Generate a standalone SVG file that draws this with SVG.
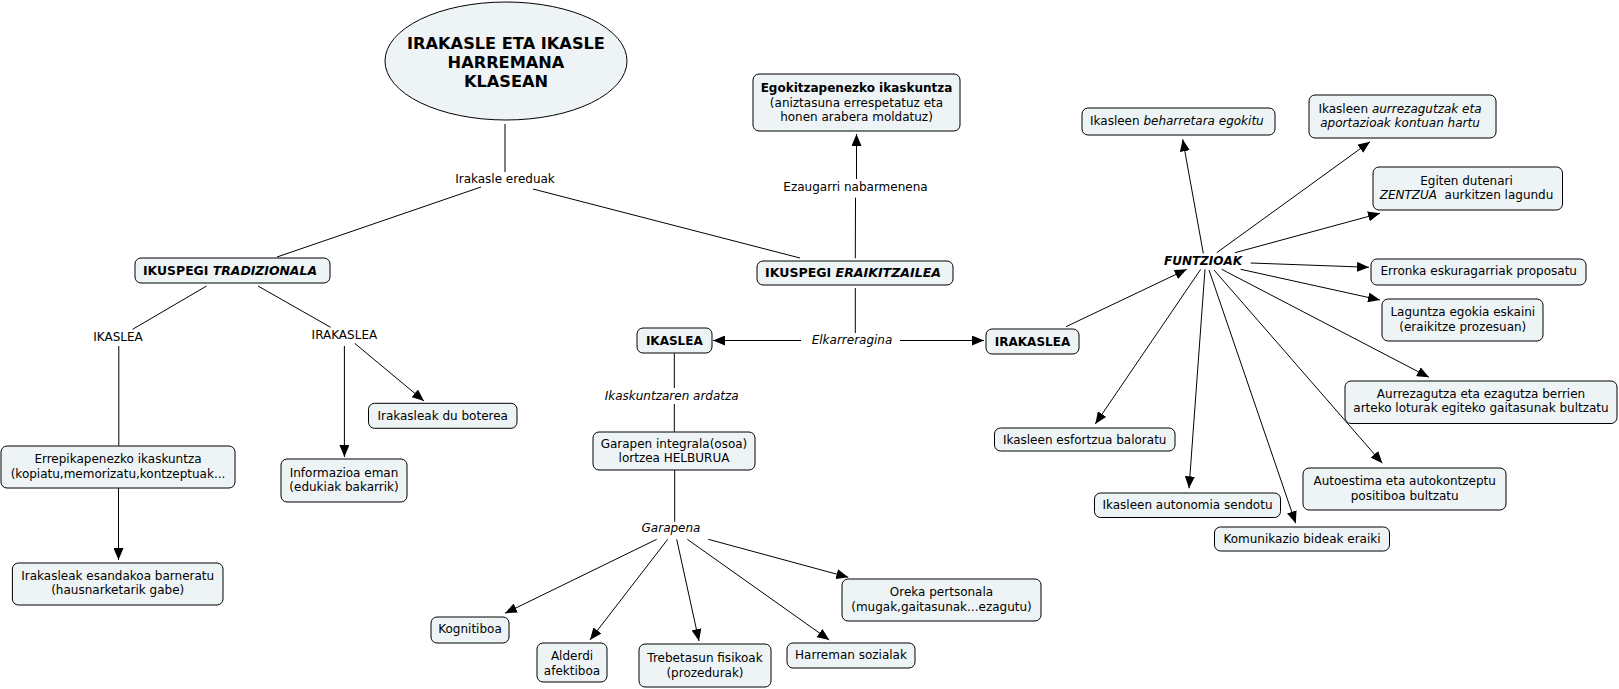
<svg xmlns="http://www.w3.org/2000/svg" width="1619" height="689" viewBox="0 0 1619 689">
<style>
.n{fill:#eef4f6;stroke:#000;stroke-width:1}
text{font-family:"DejaVu Sans",Verdana,sans-serif;font-size:12px;fill:#000}
.c{text-anchor:middle}
.b{font-weight:bold}
.i{font-style:italic}
.t{font-size:16.2px;font-weight:bold}
#connectors line{stroke:#000;stroke-width:1;fill:none}
#connectors line.a{marker-end:url(#ah)}
</style>
<defs>
<marker id="ah" markerUnits="userSpaceOnUse" markerWidth="12" markerHeight="10" refX="12" refY="5" orient="auto">
<path d="M0,0 L12,5 L0,10 z" fill="#000"/>
</marker>
</defs>
<rect width="1619" height="689" fill="#fff"/>
<g id="connectors">
<line x1="505" y1="124" x2="505" y2="172"/>
<line x1="481" y1="187" x2="277" y2="257"/>
<line x1="533" y1="189" x2="800" y2="258"/>
<line x1="206.6" y1="286" x2="132.6" y2="329.3"/>
<line x1="258" y1="286" x2="330.6" y2="327.3"/>
<line x1="118.8" y1="346" x2="118.8" y2="445.7"/>
<line class="a" x1="118.5" y1="488" x2="118.5" y2="560"/>
<line class="a" x1="344.4" y1="346" x2="344.4" y2="457"/>
<line class="a" x1="354.7" y1="343.3" x2="424" y2="401"/>
<line x1="855.3" y1="288" x2="855.3" y2="333"/>
<line class="a" x1="801" y1="340.5" x2="713" y2="340.5"/>
<line class="a" x1="900" y1="340.5" x2="984" y2="340.5"/>
<line x1="855.3" y1="258.3" x2="855.5" y2="197.7"/>
<line class="a" x1="856.5" y1="179" x2="856.5" y2="134"/>
<line x1="674.3" y1="353.3" x2="674.3" y2="388"/>
<line x1="674.3" y1="404" x2="674.3" y2="431.7"/>
<line x1="674.7" y1="470" x2="674.7" y2="521.7"/>
<line class="a" x1="656.7" y1="539.3" x2="505" y2="613.3"/>
<line class="a" x1="667.7" y1="539.3" x2="590" y2="640"/>
<line class="a" x1="676.7" y1="539.3" x2="699" y2="641"/>
<line class="a" x1="687.3" y1="539.3" x2="829.3" y2="640"/>
<line class="a" x1="708.3" y1="539.3" x2="848.3" y2="577.3"/>
<line class="a" x1="1066" y1="326.7" x2="1186.7" y2="269.3"/>
<line class="a" x1="1203.3" y1="253.3" x2="1182.7" y2="139.3"/>
<line class="a" x1="1216.7" y1="252.7" x2="1370" y2="141.7"/>
<line class="a" x1="1235" y1="252.7" x2="1380" y2="213.3"/>
<line class="a" x1="1250.7" y1="263" x2="1369" y2="267.3"/>
<line class="a" x1="1240.7" y1="269.3" x2="1380" y2="300"/>
<line class="a" x1="1221.7" y1="269.3" x2="1429" y2="377.3"/>
<line class="a" x1="1214" y1="270" x2="1382.3" y2="463.3"/>
<line class="a" x1="1209" y1="270" x2="1295.7" y2="523.3"/>
<line class="a" x1="1205" y1="269.3" x2="1189" y2="488.3"/>
<line class="a" x1="1200.7" y1="269.3" x2="1095.3" y2="424"/>
</g>
<g id="title">
<ellipse class="n" cx="506" cy="61" rx="121" ry="59"/>
<text class="c t" x="506" y="48.5">IRAKASLE ETA IKASLE</text>
<text class="c t" x="506" y="67.5">HARREMANA</text>
<text class="c t" x="506" y="86.8">KLASEAN</text>
</g>
<g id="lbl-ereduak"><text class="c" x="505" y="183">Irakasle ereduak</text></g>
<g id="tradizionala">
<rect class="n" x="135" y="258" width="195" height="25" rx="6"/>
<text class="b" x="143" y="275" textLength="174" lengthAdjust="spacingAndGlyphs">IKUSPEGI <tspan class="i">TRADIZIONALA</tspan></text>
</g>
<g id="eraikitzailea">
<rect class="n" x="757" y="261" width="196" height="24" rx="6"/>
<text class="b" x="765" y="277" textLength="176" lengthAdjust="spacingAndGlyphs">IKUSPEGI <tspan class="i">ERAIKITZAILEA</tspan></text>
</g>
<g id="egokitzapen">
<rect class="n" x="753" y="74" width="207" height="57" rx="6"/>
<text class="c b" x="856.5" y="91.7">Egokitzapenezko ikaskuntza</text>
<text class="c" x="856.5" y="106.7">(aniztasuna errespetatuz eta</text>
<text class="c" x="856.5" y="121.3">honen arabera moldatuz)</text>
</g>
<g id="lbl-ezaugarri"><text class="c" x="855.5" y="190.7">Ezaugarri nabarmenena</text></g>
<g id="lbl-elkarreragina"><text class="c i" x="852" y="344">Elkarreragina</text></g>
<g id="ikaslea-m">
<rect class="n" x="637" y="328" width="75" height="25" rx="6"/>
<text class="c b" x="674.3" y="345">IKASLEA</text>
</g>
<g id="irakaslea-r">
<rect class="n" x="986" y="329" width="93" height="25" rx="6"/>
<text class="c b" x="1032.5" y="345.7">IRAKASLEA</text>
</g>
<g id="lbl-ardatza"><text class="c i" x="671.7" y="399.7">Ikaskuntzaren ardatza</text></g>
<g id="garapen">
<rect class="n" x="593" y="432" width="162" height="38" rx="6"/>
<text class="c" x="674" y="448">Garapen integrala(osoa)</text>
<text class="c" x="674" y="462.3">lortzea HELBURUA</text>
</g>
<g id="lbl-garapena"><text class="c i" x="671" y="532.3">Garapena</text></g>
<g id="kognitiboa">
<rect class="n" x="431" y="617" width="78" height="26" rx="6"/>
<text class="c" x="470" y="632.7">Kognitiboa</text>
</g>
<g id="alderdi">
<rect class="n" x="537" y="643" width="70" height="39" rx="6"/>
<text class="c" x="572" y="659.7">Alderdi</text>
<text class="c" x="572" y="674.7">afektiboa</text>
</g>
<g id="trebetasun">
<rect class="n" x="639" y="644" width="132" height="43" rx="6"/>
<text class="c" x="705" y="661.7">Trebetasun fisikoak</text>
<text class="c" x="705" y="676.7">(prozedurak)</text>
</g>
<g id="harreman">
<rect class="n" x="787" y="643" width="128" height="25" rx="6"/>
<text class="c" x="851" y="659.3">Harreman sozialak</text>
</g>
<g id="oreka">
<rect class="n" x="842" y="579" width="199" height="42" rx="6"/>
<text class="c" x="941.5" y="595.7">Oreka pertsonala</text>
<text class="c" x="941.5" y="610.7">(mugak,gaitasunak...ezagutu)</text>
</g>
<g id="lbl-ikaslea"><text class="c" x="118" y="341">IKASLEA</text></g>
<g id="lbl-irakaslea"><text class="c" x="344.4" y="338.5">IRAKASLEA</text></g>
<g id="boterea">
<rect class="n" x="368.5" y="403.3" width="148.5" height="25" rx="6"/>
<text class="c" x="442.7" y="420">Irakasleak du boterea</text>
</g>
<g id="errepikapen">
<rect class="n" x="1" y="446" width="234" height="42" rx="6"/>
<text class="c" x="118" y="463">Errepikapenezko ikaskuntza</text>
<text class="c" x="118" y="478.3">(kopiatu,memorizatu,kontzeptuak...</text>
</g>
<g id="informazioa">
<rect class="n" x="281" y="459" width="126" height="43" rx="6"/>
<text class="c" x="344" y="476.7">Informazioa eman</text>
<text class="c" x="344" y="491.3">(edukiak bakarrik)</text>
</g>
<g id="esandakoa">
<rect class="n" x="12.4" y="563" width="210.6" height="42" rx="6"/>
<text class="c" x="117.7" y="579.7">Irakasleak esandakoa barneratu</text>
<text class="c" x="117.7" y="594">(hausnarketarik gabe)</text>
</g>
<g id="lbl-funtzioak"><text class="c b i" x="1203" y="265">FUNTZIOAK</text></g>
<g id="beharretara">
<rect class="n" x="1082" y="108" width="193" height="27" rx="6"/>
<text x="1090" y="125">Ikasleen <tspan class="i">beharretara egokitu</tspan></text>
</g>
<g id="aurrezagutzak">
<rect class="n" x="1309" y="95" width="187" height="43" rx="6"/>
<text class="c" x="1400" y="113">Ikasleen <tspan class="i">aurrezagutzak eta</tspan></text>
<text class="c i" x="1400" y="127.3">aportazioak kontuan hartu</text>
</g>
<g id="egiten">
<rect class="n" x="1373" y="167" width="189.5" height="43" rx="6"/>
<text class="c" x="1466.5" y="184.7">Egiten dutenari</text>
<text class="c" x="1466.5" y="199.3" xml:space="preserve"><tspan class="i">ZENTZUA</tspan>  aurkitzen lagundu</text>
</g>
<g id="erronka">
<rect class="n" x="1371" y="259" width="215" height="26" rx="6"/>
<text class="c" x="1478.7" y="275">Erronka eskuragarriak proposatu</text>
</g>
<g id="laguntza">
<rect class="n" x="1382" y="299" width="161" height="42" rx="6"/>
<text class="c" x="1462.8" y="315.7">Laguntza egokia eskaini</text>
<text class="c" x="1462.8" y="330.7">(eraikitze prozesuan)</text>
</g>
<g id="aurrezagutza">
<rect class="n" x="1345" y="381" width="272" height="42.5" rx="6"/>
<text class="c" x="1481" y="398">Aurrezagutza eta ezagutza berrien</text>
<text class="c" x="1481" y="412.3">arteko loturak egiteko gaitasunak bultzatu</text>
</g>
<g id="autoestima">
<rect class="n" x="1303" y="468" width="203" height="42" rx="6"/>
<text class="c" x="1404.7" y="484.7">Autoestima eta autokontzeptu</text>
<text class="c" x="1404.7" y="499.7">positiboa bultzatu</text>
</g>
<g id="autonomia">
<rect class="n" x="1094.5" y="493" width="186" height="24.5" rx="6"/>
<text class="c" x="1187.5" y="509">Ikasleen autonomia sendotu</text>
</g>
<g id="komunikazio">
<rect class="n" x="1214.5" y="527" width="175" height="24" rx="6"/>
<text class="c" x="1302" y="543">Komunikazio bideak eraiki</text>
</g>
<g id="esfortzua">
<rect class="n" x="994.5" y="428" width="180.5" height="23" rx="6"/>
<text class="c" x="1084.7" y="443.5">Ikasleen esfortzua baloratu</text>
</g>
</svg>
